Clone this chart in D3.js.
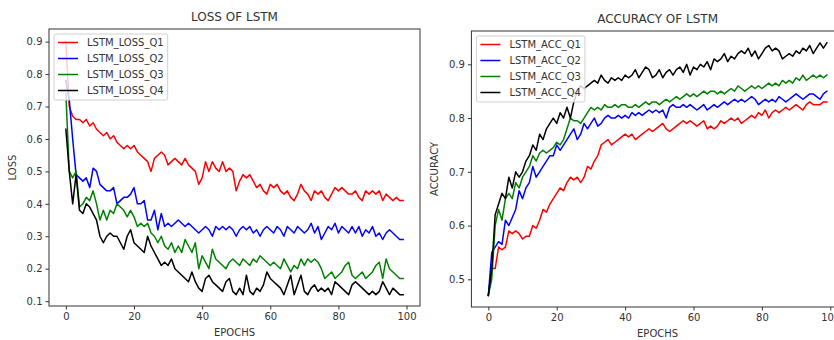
<!DOCTYPE html>
<html>
<head>
<meta charset="utf-8">
<script src="https://cdn.jsdelivr.net/npm/d3@7"></script>
<style>
  html, body { margin: 0; padding: 0; background: #fff; }
  svg { display: block; font-family: "DejaVu Sans", sans-serif; }
</style>
</head>
<body>
<svg id="chart" width="834" height="340"></svg>
<script>
const epochs = d3.range(100);

const lossQ1 = [0.90,0.70,0.67,0.66,0.66,0.65,0.66,0.64,0.65,0.63,
  0.62,0.61,0.62,0.60,0.61,0.59,0.58,0.57,0.58,0.57,
  0.58,0.56,0.55,0.54,0.53,0.50,0.54,0.55,0.56,0.55,
  0.52,0.53,0.54,0.53,0.52,0.54,0.52,0.51,0.50,0.46,
  0.48,0.53,0.50,0.53,0.51,0.50,0.53,0.50,0.51,0.50,
  0.44,0.47,0.49,0.48,0.49,0.47,0.45,0.46,0.44,0.43,
  0.46,0.45,0.46,0.44,0.43,0.44,0.42,0.41,0.43,0.46,
  0.44,0.43,0.41,0.44,0.43,0.44,0.42,0.41,0.43,0.45,
  0.44,0.45,0.44,0.43,0.43,0.44,0.42,0.41,0.44,0.43,
  0.44,0.43,0.44,0.41,0.43,0.42,0.41,0.42,0.41,0.41];
const lossQ2 = [0.78,0.72,0.60,0.49,0.48,0.47,0.48,0.45,0.51,0.50,
  0.46,0.45,0.44,0.44,0.45,0.40,0.41,0.42,0.42,0.43,
  0.45,0.40,0.40,0.41,0.35,0.35,0.38,0.32,0.37,0.33,
  0.34,0.33,0.34,0.35,0.34,0.33,0.34,0.33,0.32,0.31,
  0.32,0.33,0.32,0.30,0.33,0.32,0.33,0.32,0.33,0.32,
  0.30,0.32,0.33,0.32,0.33,0.31,0.32,0.30,0.32,0.33,
  0.32,0.31,0.33,0.32,0.30,0.33,0.32,0.31,0.33,0.32,
  0.31,0.32,0.34,0.31,0.33,0.29,0.31,0.33,0.32,0.34,
  0.31,0.33,0.32,0.31,0.33,0.31,0.33,0.30,0.32,0.31,
  0.33,0.30,0.31,0.29,0.31,0.32,0.31,0.30,0.29,0.29];
const lossQ3 = [0.74,0.50,0.48,0.50,0.39,0.40,0.42,0.41,0.44,0.40,
  0.35,0.38,0.35,0.38,0.37,0.40,0.39,0.38,0.36,0.38,
  0.36,0.33,0.34,0.33,0.34,0.31,0.30,0.28,0.30,0.27,
  0.26,0.28,0.25,0.27,0.25,0.29,0.27,0.25,0.28,0.20,
  0.24,0.22,0.20,0.26,0.23,0.22,0.21,0.20,0.22,0.23,
  0.22,0.21,0.23,0.22,0.21,0.23,0.22,0.24,0.23,0.22,
  0.21,0.22,0.21,0.20,0.23,0.21,0.19,0.21,0.20,0.23,
  0.21,0.23,0.22,0.23,0.22,0.20,0.17,0.18,0.19,0.17,
  0.18,0.19,0.21,0.22,0.18,0.17,0.18,0.19,0.17,0.18,
  0.19,0.21,0.22,0.17,0.23,0.20,0.19,0.18,0.17,0.17];
const lossQ4 = [0.63,0.50,0.40,0.49,0.38,0.37,0.40,0.39,0.37,0.35,
  0.30,0.28,0.30,0.31,0.30,0.30,0.28,0.26,0.30,0.32,
  0.28,0.27,0.26,0.25,0.30,0.27,0.25,0.23,0.21,0.22,
  0.21,0.23,0.20,0.19,0.18,0.17,0.16,0.19,0.16,0.14,
  0.13,0.17,0.18,0.16,0.15,0.14,0.13,0.16,0.17,0.13,
  0.12,0.14,0.12,0.18,0.13,0.12,0.14,0.13,0.15,0.19,
  0.17,0.16,0.15,0.14,0.12,0.15,0.18,0.12,0.15,0.18,
  0.13,0.12,0.14,0.15,0.13,0.14,0.13,0.14,0.12,0.16,
  0.15,0.14,0.13,0.12,0.15,0.16,0.15,0.14,0.13,0.12,
  0.13,0.12,0.13,0.16,0.14,0.12,0.14,0.13,0.12,0.12];

const accQ1 = [0.47,0.52,0.52,0.56,0.555,0.56,0.59,0.585,0.59,0.585,
  0.575,0.58,0.58,0.60,0.595,0.61,0.63,0.625,0.64,0.65,
  0.66,0.67,0.665,0.68,0.69,0.685,0.69,0.68,0.69,0.71,
  0.705,0.72,0.73,0.75,0.755,0.76,0.75,0.755,0.76,0.765,
  0.77,0.765,0.77,0.76,0.765,0.77,0.775,0.78,0.775,0.78,
  0.785,0.79,0.78,0.775,0.78,0.785,0.79,0.795,0.79,0.795,
  0.79,0.785,0.79,0.795,0.78,0.785,0.78,0.785,0.795,0.79,
  0.795,0.80,0.795,0.80,0.79,0.795,0.80,0.805,0.80,0.81,
  0.805,0.815,0.80,0.81,0.815,0.81,0.815,0.82,0.815,0.82,
  0.825,0.82,0.815,0.825,0.83,0.825,0.825,0.825,0.83,0.83];
const accQ2 = [0.47,0.55,0.56,0.57,0.565,0.61,0.60,0.615,0.63,0.665,
  0.65,0.67,0.68,0.71,0.69,0.70,0.71,0.72,0.73,0.73,
  0.75,0.74,0.75,0.76,0.77,0.78,0.76,0.77,0.79,0.78,
  0.79,0.80,0.785,0.79,0.80,0.805,0.80,0.80,0.805,0.80,
  0.805,0.80,0.81,0.805,0.81,0.805,0.81,0.815,0.81,0.815,
  0.81,0.815,0.80,0.82,0.825,0.82,0.82,0.825,0.82,0.825,
  0.82,0.815,0.82,0.825,0.815,0.82,0.825,0.82,0.825,0.83,
  0.825,0.83,0.835,0.83,0.835,0.83,0.835,0.84,0.835,0.825,
  0.83,0.835,0.83,0.835,0.83,0.84,0.835,0.83,0.835,0.84,
  0.845,0.84,0.835,0.84,0.845,0.845,0.84,0.835,0.845,0.85];
const accQ3 = [0.47,0.50,0.60,0.63,0.61,0.65,0.66,0.65,0.68,0.67,
  0.69,0.70,0.71,0.73,0.72,0.735,0.74,0.735,0.74,0.745,
  0.755,0.75,0.76,0.78,0.80,0.795,0.795,0.79,0.80,0.81,
  0.82,0.815,0.82,0.815,0.825,0.82,0.82,0.825,0.82,0.825,
  0.825,0.82,0.82,0.825,0.82,0.825,0.83,0.825,0.83,0.83,
  0.825,0.83,0.835,0.83,0.835,0.84,0.835,0.84,0.845,0.84,
  0.845,0.84,0.845,0.85,0.845,0.85,0.85,0.845,0.85,0.845,
  0.85,0.855,0.85,0.86,0.855,0.85,0.855,0.86,0.855,0.86,
  0.855,0.86,0.865,0.86,0.865,0.86,0.87,0.865,0.87,0.865,
  0.875,0.87,0.88,0.87,0.875,0.88,0.875,0.88,0.875,0.88];
const accQ4 = [0.47,0.52,0.62,0.64,0.66,0.65,0.69,0.67,0.70,0.69,
  0.70,0.72,0.73,0.75,0.74,0.77,0.76,0.78,0.79,0.80,
  0.79,0.81,0.80,0.82,0.80,0.83,0.85,0.86,0.855,0.86,
  0.865,0.87,0.865,0.88,0.87,0.865,0.875,0.87,0.875,0.87,
  0.88,0.875,0.88,0.89,0.875,0.885,0.895,0.89,0.875,0.88,
  0.89,0.875,0.885,0.89,0.88,0.89,0.895,0.885,0.90,0.88,
  0.895,0.89,0.90,0.895,0.905,0.89,0.91,0.905,0.91,0.92,
  0.905,0.915,0.91,0.92,0.925,0.92,0.93,0.915,0.925,0.91,
  0.92,0.93,0.935,0.925,0.93,0.925,0.91,0.915,0.92,0.915,
  0.925,0.92,0.93,0.925,0.935,0.92,0.93,0.94,0.93,0.94];

const xTicks = [0, 20, 40, 60, 80, 100];
const lossTicks = [0.1, 0.2, 0.3, 0.4, 0.5, 0.6, 0.7, 0.8, 0.9];
const accTicks = [0.5, 0.6, 0.7, 0.8, 0.9];
const seriesColors = ["#ff0000", "#0000ff", "#008000", "#000000"];
const lossNames = ["LSTM_LOSS_Q1", "LSTM_LOSS_Q2", "LSTM_LOSS_Q3", "LSTM_LOSS_Q4"];
const accNames = ["LSTM_ACC_Q1", "LSTM_ACC_Q2", "LSTM_ACC_Q3", "LSTM_ACC_Q4"];

const svg = d3.select("#chart");
const textColor = "#333";
const axisColor = "#333";

function panel(cfg) {
  const g = svg.append("g");
  const x = d3.scaleLinear().domain([-4.95, 103.95]).range([cfg.left, cfg.right]);
  const y = d3.scaleLinear().domain(cfg.yDomain).range([cfg.bottom, cfg.top]);
  const clipId = "clip" + cfg.id;
  svg.append("defs").append("clipPath").attr("id", clipId)
    .append("rect").attr("x", cfg.left).attr("y", cfg.top)
    .attr("width", cfg.right - cfg.left).attr("height", cfg.bottom - cfg.top);

  const line = d3.line().x((d, i) => x(epochs[i])).y(d => y(d));
  const lines = g.append("g").attr("clip-path", `url(#${clipId})`);
  cfg.series.forEach((s, i) => {
    lines.append("path").datum(s).attr("d", line)
      .attr("fill", "none").attr("stroke", seriesColors[i])
      .attr("stroke-width", 1.5).attr("stroke-linejoin", "round").attr("stroke-linecap", "square");
  });

  // frame
  g.append("rect").attr("x", cfg.left).attr("y", cfg.top)
    .attr("width", cfg.right - cfg.left).attr("height", cfg.bottom - cfg.top)
    .attr("fill", "none").attr("stroke", axisColor).attr("stroke-width", 1);

  const xAxis = g.append("g").attr("transform", `translate(0,${cfg.bottom})`)
    .call(d3.axisBottom(x).tickValues(xTicks).tickSize(3.5).tickPadding(3).tickFormat(d3.format("d")));
  const yAxis = g.append("g").attr("transform", `translate(${cfg.left},0)`)
    .call(d3.axisLeft(y).tickValues(cfg.yTicks).tickSize(3.5).tickPadding(3).tickFormat(d3.format(".1f")));
  [xAxis, yAxis].forEach(a => {
    a.select(".domain").remove();
    a.selectAll(".tick line").attr("stroke", axisColor);
    a.selectAll(".tick text").attr("fill", textColor).attr("font-size", 10)
      .attr("font-family", "DejaVu Sans, sans-serif");
  });

  g.append("text").attr("x", (cfg.left + cfg.right) / 2).attr("y", cfg.top - 8)
    .attr("text-anchor", "middle").attr("font-size", 12).attr("fill", textColor).text(cfg.title);
  g.append("text").attr("x", (cfg.left + cfg.right) / 2).attr("y", cfg.bottom + 30)
    .attr("text-anchor", "middle").attr("font-size", 10).attr("fill", textColor).text("EPOCHS");
  g.append("text").attr("transform", `translate(${cfg.ylabelX},${(cfg.top + cfg.bottom) / 2}) rotate(-90)`)
    .attr("text-anchor", "middle").attr("font-size", 10).attr("fill", textColor).text(cfg.ylabel);

  // legend
  const lg = g.append("g").attr("transform", `translate(${cfg.left + 5},${cfg.top + 5})`);
  const box = lg.append("rect").attr("x", 0).attr("y", 0).attr("rx", 2).attr("ry", 2)
    .attr("height", 66).attr("fill", "#fff").attr("fill-opacity", 0.8)
    .attr("stroke", "#d0d0d0").attr("stroke-width", 1);
  let maxW = 0;
  cfg.names.forEach((n, i) => {
    const cy = 8.5 + i * 16;
    lg.append("line").attr("x1", 4).attr("x2", 24).attr("y1", cy).attr("y2", cy)
      .attr("stroke", seriesColors[i]).attr("stroke-width", 1.5);
    const t = lg.append("text").attr("x", 33).attr("y", cy).attr("dy", "0.36em")
      .attr("font-size", 10).attr("fill", textColor).text(n);
    maxW = Math.max(maxW, t.node().getComputedTextLength());
  });
  box.attr("width", 33 + maxW + 4);
}

panel({
  id: "loss", left: 49, right: 420, top: 29, bottom: 306,
  yDomain: [0.085, 0.939], yTicks: lossTicks,
  series: [lossQ1, lossQ2, lossQ3, lossQ4], names: lossNames,
  title: "LOSS OF LSTM", ylabel: "LOSS", ylabelX: 16
});
panel({
  id: "acc", left: 471.4, right: 843.8, top: 31, bottom: 307,
  yDomain: [0.4485, 0.962], yTicks: accTicks,
  series: [accQ1, accQ2, accQ3, accQ4], names: accNames,
  title: "ACCURACY OF LSTM", ylabel: "ACCURACY", ylabelX: 438
});
</script>
</body>
</html>
